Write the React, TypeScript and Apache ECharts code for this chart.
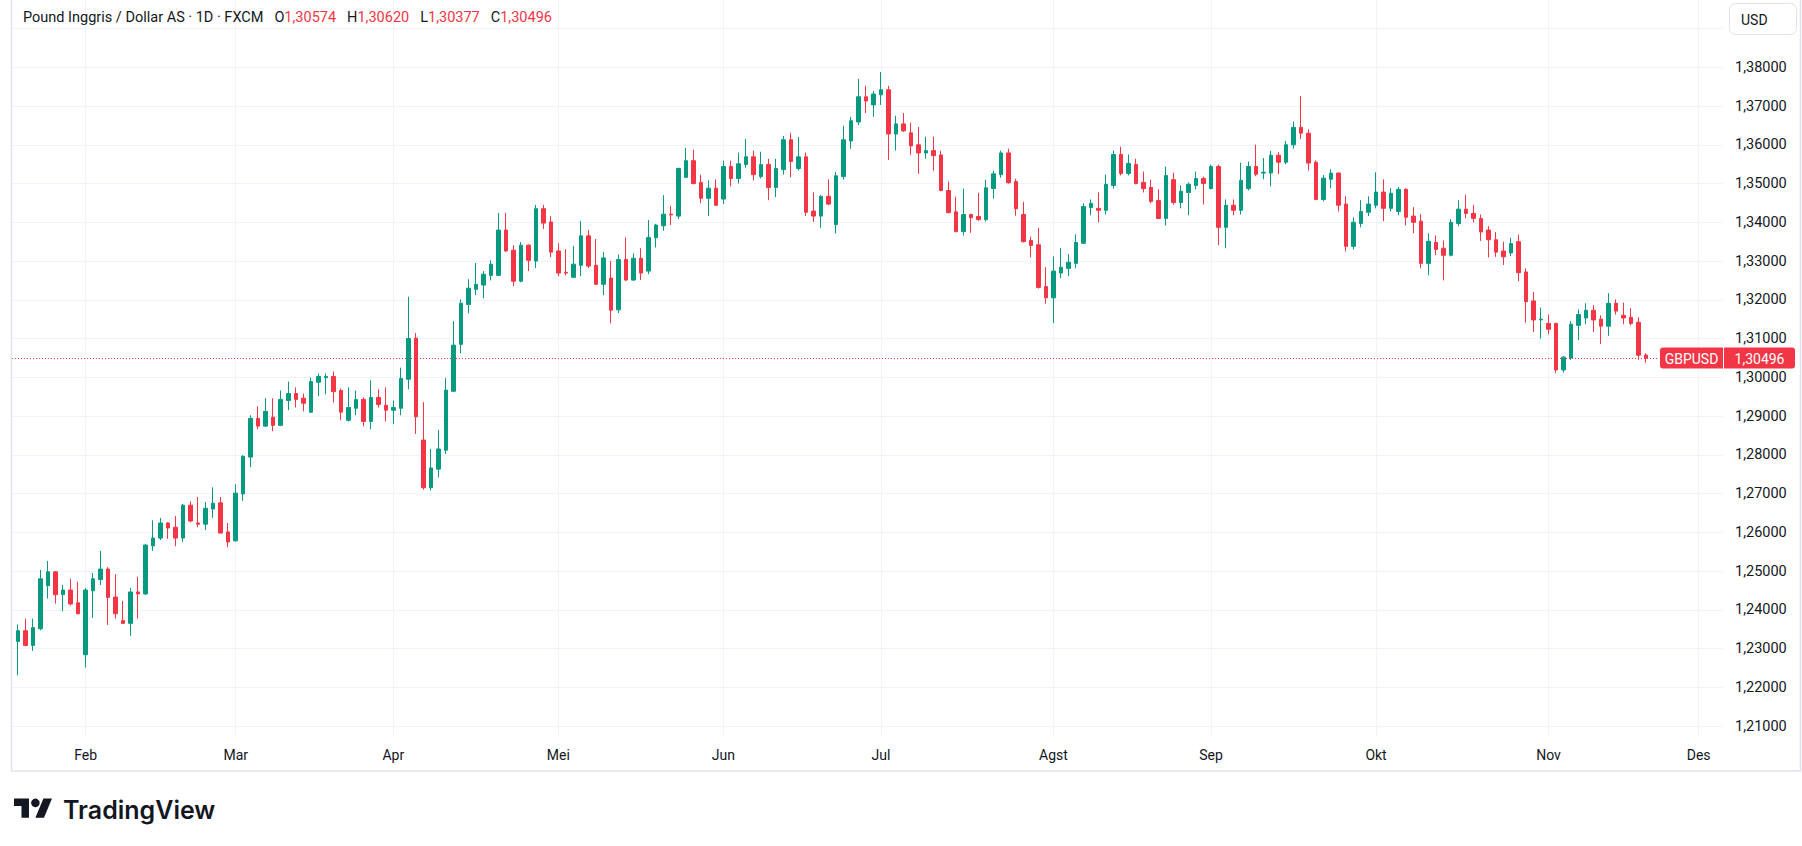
import React, { useEffect, useRef } from "react";
import * as echarts from "echarts";

// Daily GBPUSD candles, index 1 = first candle on the chart
const opens = [
  1.2318, 1.2346, 1.2308, 1.2351, 1.2462, 1.2498, 1.2439, 1.2451, 1.2418, 1.2284,
  1.2449, 1.2478, 1.2505, 1.2433, 1.2372, 1.2365, 1.2446, 1.2441, 1.2565, 1.2585,
  1.2624, 1.2613, 1.2585, 1.2670, 1.2624, 1.2621, 1.2660, 1.2676, 1.2601, 1.2578,
  1.2699, 1.2794, 1.2894, 1.2874, 1.2897, 1.2876, 1.2940, 1.2958, 1.2946, 1.2910,
  1.2987, 1.2999, 1.3002, 1.2966, 1.2889, 1.2920, 1.2943, 1.2886, 1.2948, 1.2928,
  1.2915, 1.2920, 1.2995, 1.3101, 1.2838, 1.2715, 1.2763, 1.2812, 1.2964, 1.3085,
  1.3188, 1.3227, 1.3238, 1.3263, 1.3263, 1.3380, 1.3328, 1.3248, 1.3341, 1.3300,
  1.3435, 1.3401, 1.3326, 1.3271, 1.3258, 1.3289, 1.3365, 1.3289, 1.3240, 1.3256,
  1.3174, 1.3304, 1.3251, 1.3307, 1.3274, 1.3360, 1.3391, 1.3421, 1.3416, 1.3516,
  1.3559, 1.3503, 1.3462, 1.3488, 1.3460, 1.3544, 1.3513, 1.3549, 1.3569, 1.3518,
  1.3549, 1.3490, 1.3536, 1.3613, 1.3539, 1.3569, 1.3429, 1.3416, 1.3467, 1.3394,
  1.3518, 1.3610, 1.3659, 1.3724, 1.3703, 1.3729, 1.3742, 1.3628, 1.3654, 1.3631,
  1.3600, 1.3579, 1.3585, 1.3574, 1.3482, 1.3427, 1.3376, 1.3420, 1.3415, 1.3407,
  1.3487, 1.3523, 1.3579, 1.3505, 1.3420, 1.3353, 1.3342, 1.3234, 1.3205, 1.3269,
  1.3281, 1.3294, 1.3346, 1.3438, 1.3436, 1.3431, 1.3495, 1.3575, 1.3526, 1.3549,
  1.3503, 1.3490, 1.3456, 1.3410, 1.3510, 1.3451, 1.3477, 1.3495, 1.3513, 1.3487,
  1.3544, 1.3387, 1.3444, 1.3431, 1.3487, 1.3544, 1.3527, 1.3527, 1.3573, 1.3555,
  1.3600, 1.3645, 1.3630, 1.3555, 1.3459, 1.3511, 1.3527, 1.3447, 1.3338, 1.3397,
  1.3426, 1.3444, 1.3478, 1.3436, 1.3428, 1.3485, 1.3416, 1.3403, 1.3294, 1.3348,
  1.3333, 1.3315, 1.3397, 1.3434, 1.3423, 1.3410, 1.3380, 1.3355, 1.3326, 1.3321,
  1.3350, 1.3272, 1.3197, 1.3148, 1.3139, 1.3139, 1.3019, 1.3050, 1.3134, 1.3153,
  1.3173, 1.3150, 1.3132, 1.3191, 1.3160, 1.3155, 1.3142, 1.30574,
];

const highs = [
  1.2362, 1.2377, 1.2377, 1.2503, 1.2526, 1.2500, 1.2464, 1.2480, 1.2472, 1.2456,
  1.2495, 1.2552, 1.2510, 1.2492, 1.2423, 1.2456, 1.2485, 1.2570, 1.2631, 1.2637,
  1.2626, 1.2642, 1.2673, 1.2680, 1.2691, 1.2678, 1.2716, 1.2691, 1.2624, 1.2724,
  1.2799, 1.2902, 1.2925, 1.2946, 1.2946, 1.2966, 1.2989, 1.2974, 1.2958, 1.2999,
  1.3010, 1.3010, 1.3015, 1.2971, 1.2974, 1.2966, 1.2948, 1.2992, 1.2969, 1.2974,
  1.2940, 1.3025, 1.3208, 1.3114, 1.2936, 1.2815, 1.2864, 1.2998, 1.3145, 1.3201,
  1.3253, 1.3295, 1.3274, 1.3302, 1.3424, 1.3424, 1.3341, 1.3349, 1.3343, 1.3445,
  1.3445, 1.3416, 1.3346, 1.3331, 1.3339, 1.3403, 1.3380, 1.3357, 1.3323, 1.3300,
  1.3317, 1.3361, 1.3320, 1.3333, 1.3406, 1.3396, 1.3470, 1.3442, 1.3541, 1.3592,
  1.3587, 1.3523, 1.3508, 1.3511, 1.3559, 1.3559, 1.3580, 1.3615, 1.3585, 1.3582,
  1.3564, 1.3564, 1.3623, 1.3631, 1.3620, 1.3580, 1.3477, 1.3470, 1.3511, 1.3530,
  1.3649, 1.3672, 1.3770, 1.3752, 1.3739, 1.3788, 1.3752, 1.3675, 1.3682, 1.3657,
  1.3646, 1.3621, 1.3621, 1.3585, 1.3505, 1.3466, 1.3487, 1.3422, 1.3476, 1.3510,
  1.3533, 1.3585, 1.3590, 1.3512, 1.3453, 1.3363, 1.3386, 1.3284, 1.3312, 1.3333,
  1.3318, 1.3369, 1.3449, 1.3459, 1.3477, 1.3523, 1.3585, 1.3595, 1.3575, 1.3564,
  1.3531, 1.3510, 1.3485, 1.3544, 1.3528, 1.3495, 1.3503, 1.3531, 1.3518, 1.3549,
  1.3549, 1.3459, 1.3459, 1.3554, 1.3557, 1.3600, 1.3566, 1.3584, 1.3581, 1.3610,
  1.3660, 1.3726, 1.3640, 1.3560, 1.3522, 1.3537, 1.3529, 1.3467, 1.3413, 1.3457,
  1.3467, 1.3529, 1.3511, 1.3488, 1.3491, 1.3488, 1.3439, 1.3421, 1.3372, 1.3366,
  1.3353, 1.3408, 1.3457, 1.3471, 1.3445, 1.3420, 1.3390, 1.3375, 1.3350, 1.3360,
  1.3368, 1.3281, 1.3220, 1.3180, 1.3162, 1.3141, 1.3055, 1.3145, 1.3175, 1.3191,
  1.3186, 1.3160, 1.3217, 1.3201, 1.3193, 1.3178, 1.3155, 1.30620,
];

const lows = [
  1.2231, 1.2306, 1.2294, 1.2347, 1.2429, 1.2416, 1.2396, 1.2411, 1.2388, 1.2251,
  1.2379, 1.2464, 1.2361, 1.2377, 1.2363, 1.2333, 1.2377, 1.2438, 1.2552, 1.2580,
  1.2583, 1.2564, 1.2575, 1.2626, 1.2613, 1.2606, 1.2637, 1.2597, 1.2561, 1.2576,
  1.2681, 1.2768, 1.2866, 1.2872, 1.2861, 1.2874, 1.2915, 1.2922, 1.2912, 1.2908,
  1.2951, 1.2956, 1.2935, 1.2889, 1.2886, 1.2902, 1.2874, 1.2866, 1.2922, 1.2886,
  1.2879, 1.2902, 1.2969, 1.2854, 1.2710, 1.2708, 1.2742, 1.2802, 1.2962, 1.3062,
  1.3165, 1.3212, 1.3204, 1.3250, 1.3261, 1.3324, 1.3235, 1.3245, 1.3274, 1.3282,
  1.3383, 1.3310, 1.3261, 1.3263, 1.3256, 1.3261, 1.3282, 1.3238, 1.3212, 1.3139,
  1.3166, 1.3249, 1.3249, 1.3251, 1.3266, 1.3335, 1.3378, 1.3393, 1.3409, 1.3514,
  1.3498, 1.3449, 1.3416, 1.3442, 1.3447, 1.3493, 1.3500, 1.3541, 1.3508, 1.3513,
  1.3457, 1.3465, 1.3523, 1.3516, 1.3534, 1.3416, 1.3401, 1.3386, 1.3444, 1.3371,
  1.3510, 1.3590, 1.3651, 1.3682, 1.3672, 1.3703, 1.3561, 1.3585, 1.3633, 1.3574,
  1.3525, 1.3564, 1.3533, 1.3480, 1.3423, 1.3374, 1.3366, 1.3373, 1.3404, 1.3402,
  1.3461, 1.3515, 1.3500, 1.3417, 1.3348, 1.3309, 1.3229, 1.3190, 1.3140, 1.3256,
  1.3261, 1.3281, 1.3344, 1.3418, 1.3400, 1.3420, 1.3487, 1.3521, 1.3521, 1.3498,
  1.3477, 1.3449, 1.3408, 1.3392, 1.3446, 1.3436, 1.3418, 1.3485, 1.3446, 1.3485,
  1.3341, 1.3333, 1.3418, 1.3420, 1.3482, 1.3519, 1.3511, 1.3493, 1.3524, 1.3550,
  1.3590, 1.3615, 1.3534, 1.3457, 1.3454, 1.3488, 1.3428, 1.3325, 1.3330, 1.3387,
  1.3416, 1.3436, 1.3403, 1.3428, 1.3418, 1.3392, 1.3372, 1.3281, 1.3263, 1.3315,
  1.3250, 1.3312, 1.3390, 1.3410, 1.3400, 1.3352, 1.3309, 1.3311, 1.3290, 1.3313,
  1.3248, 1.3141, 1.3117, 1.3100, 1.3111, 1.3012, 1.3012, 1.3045, 1.3096, 1.3137,
  1.3117, 1.3086, 1.3107, 1.3162, 1.3137, 1.3134, 1.3045, 1.30377,
];

const closes = [
  1.2346, 1.2308, 1.2354, 1.2480, 1.2498, 1.2439, 1.2451, 1.2415, 1.2390, 1.2451,
  1.2480, 1.2505, 1.2432, 1.2390, 1.2365, 1.2446, 1.2441, 1.2567, 1.2585, 1.2624,
  1.2611, 1.2585, 1.2670, 1.2629, 1.2621, 1.2662, 1.2675, 1.2598, 1.2575, 1.2701,
  1.2796, 1.2894, 1.2874, 1.2912, 1.2876, 1.2943, 1.2958, 1.2943, 1.2933, 1.2989,
  1.3002, 1.3002, 1.2963, 1.2910, 1.2922, 1.2943, 1.2886, 1.2948, 1.2930, 1.2915,
  1.2922, 1.2997, 1.3100, 1.2898, 1.2715, 1.2766, 1.2815, 1.2967, 1.3083, 1.3191,
  1.3230, 1.3240, 1.3266, 1.3292, 1.3380, 1.3326, 1.3248, 1.3341, 1.3302, 1.3435,
  1.3398, 1.3323, 1.3269, 1.3269, 1.3292, 1.3365, 1.3287, 1.3240, 1.3308, 1.3173,
  1.3304, 1.3251, 1.3307, 1.3269, 1.3361, 1.3393, 1.3421, 1.3419, 1.3539, 1.3559,
  1.3500, 1.3462, 1.3488, 1.3444, 1.3544, 1.3513, 1.3551, 1.3569, 1.3523, 1.3549,
  1.3490, 1.3539, 1.3613, 1.3557, 1.3569, 1.3426, 1.3416, 1.3467, 1.3447, 1.3520,
  1.3613, 1.3662, 1.3724, 1.3713, 1.3731, 1.3742, 1.3628, 1.3654, 1.3636, 1.3597,
  1.3579, 1.3585, 1.3572, 1.3482, 1.3425, 1.3376, 1.3420, 1.3412, 1.3407, 1.3489,
  1.3525, 1.3579, 1.3502, 1.3435, 1.3350, 1.3340, 1.3232, 1.3205, 1.3274, 1.3284,
  1.3297, 1.3348, 1.3441, 1.3449, 1.3431, 1.3498, 1.3575, 1.3526, 1.3552, 1.3500,
  1.3487, 1.3454, 1.3410, 1.3521, 1.3451, 1.3480, 1.3498, 1.3513, 1.3500, 1.3544,
  1.3387, 1.3444, 1.3431, 1.3508, 1.3544, 1.3524, 1.3529, 1.3573, 1.3555, 1.3600,
  1.3645, 1.3630, 1.3553, 1.3459, 1.3514, 1.3527, 1.3444, 1.3338, 1.3400, 1.3428,
  1.3447, 1.3478, 1.3436, 1.3475, 1.3485, 1.3413, 1.3400, 1.3294, 1.3351, 1.3330,
  1.3315, 1.3400, 1.3434, 1.3423, 1.3410, 1.3375, 1.3355, 1.3323, 1.3311, 1.3345,
  1.3270, 1.3195, 1.3148, 1.3150, 1.3124, 1.3019, 1.3052, 1.3137, 1.3162, 1.3173,
  1.3148, 1.3132, 1.3191, 1.3171, 1.3153, 1.3139, 1.3057, 1.30496,
];

// candle index of the first trading day of each month
const monthTicks = [10, 30, 51, 73, 95, 116, 139, 160, 182, 205, 225];
const monthLabels = ["Feb", "Mar", "Apr", "Mei", "Jun", "Jul", "Agst", "Sep", "Okt", "Nov", "Des"];

const priceGridTicks = [
  1.21, 1.22, 1.23, 1.24, 1.25, 1.26, 1.27, 1.28, 1.29, 1.3,
  1.31, 1.32, 1.33, 1.34, 1.35, 1.36, 1.37, 1.38, 1.39,
];
const priceLabelTicks = [
  1.21, 1.22, 1.23, 1.24, 1.25, 1.26, 1.27, 1.28, 1.29, 1.3,
  1.31, 1.32, 1.33, 1.34, 1.35, 1.36, 1.37, 1.38,
];

const symbolName = "Pound Inggris / Dollar AS · 1D · FXCM";
const tickerName = "GBPUSD";

const GREEN = "#089981";
const RED = "#F23645";
const TEXT = "#131722";
const GRIDC = "#F0F3FA";
const FONT = "Roboto, 'Noto Sans', sans-serif";

let logoRegistered = false;
function ensureLogo() {
  if (logoRegistered) return;
  echarts.graphic.registerShape(
    "tvlogo",
    echarts.graphic.extendPath("M14 22H7V11H0V4h14v18zM28 22h-8l7.5-18h8L28 22z", {})
  );
  logoRegistered = true;
}

const fmt = (v: number) => v.toFixed(5).replace(".", ",");

export default function App() {
  const ref = useRef<HTMLDivElement>(null);

  useEffect(() => {
    if (!ref.current) return;
    ensureLogo();
    const chart = echarts.init(ref.current, null, { renderer: "svg" });
    const n = closes.length;
    const last = n - 1;
    const data = closes.map((c, k) => [k + 1, opens[k], c, lows[k], highs[k]]);
    const valColor = closes[last] >= opens[last] ? GREEN : RED;

    const header =
      `{t|${symbolName}}` +
      `{k|O}{v|${fmt(opens[last])}}` +
      `{k|H}{v|${fmt(highs[last])}}` +
      `{k|L}{v|${fmt(lows[last])}}` +
      `{k|C}{v|${fmt(closes[last])}}`;

    const s = 1.07;
    const option: any = {
      animation: false,
      backgroundColor: "#ffffff",
      textStyle: { fontFamily: FONT },
      title: {
        left: 23,
        top: 10,
        padding: 0,
        text: header,
        textStyle: {
          fontFamily: FONT,
          fontSize: 14.5,
          fontWeight: "normal",
          rich: {
            t: { color: TEXT, fontSize: 14.5, fontFamily: FONT },
            k: { color: TEXT, fontSize: 14.5, fontFamily: FONT, padding: [0, 0, 0, 11] },
            v: { color: valColor, fontSize: 14.5, fontFamily: FONT },
          },
        },
      },
      grid: { left: 12, top: 0, width: 1711, height: 737, containLabel: false, outerBoundsMode: "none" },
      xAxis: {
        type: "value",
        min: 0.176,
        max: 228.25,
        axisLine: { show: false },
        axisTick: { show: false, customValues: monthTicks },
        axisLabel: {
          customValues: monthTicks,
          formatter: (v: number) => {
            const j = monthTicks.indexOf(Math.round(v));
            return j >= 0 ? monthLabels[j] : "";
          },
          color: TEXT,
          fontSize: 14,
          fontFamily: FONT,
          margin: 11,
        },
        splitLine: { show: true, lineStyle: { color: GRIDC, width: 1 } },
      },
      yAxis: {
        type: "value",
        position: "right",
        min: 1.20717,
        max: 1.39737,
        axisLine: { show: false },
        axisTick: { show: false, customValues: priceGridTicks },
        axisLabel: {
          customValues: priceLabelTicks,
          formatter: (v: number) => fmt(v),
          color: TEXT,
          fontSize: 14.5,
          fontFamily: FONT,
          margin: 12,
        },
        splitLine: { show: true, lineStyle: { color: GRIDC, width: 1 } },
      },
      series: [
        {
          type: "candlestick",
          data,
          dimensions: ["idx", "open", "close", "lowest", "highest"],
          encode: { x: "idx", y: ["open", "close", "lowest", "highest"] },
          barWidth: 4,
          itemStyle: {
            color: GREEN,
            color0: RED,
            borderColor: GREEN,
            borderColor0: RED,
            borderWidth: 1,
          },
          emphasis: { disabled: true },
          markLine: {
            silent: true,
            animation: false,
            symbol: ["none", "none"],
            emphasis: { disabled: true },
            lineStyle: { color: RED, type: [1, 2], width: 1 },
            label: {
              show: true,
              position: "end",
              distance: 1,
              formatter: `{a|${tickerName}}{s| }{b|${fmt(closes[last])}}`,
              rich: {
                a: {
                  backgroundColor: RED,
                  color: "#ffffff",
                  fontSize: 14,
                  fontFamily: FONT,
                  lineHeight: 14,
                  padding: [4, 6, 3, 6],
                  width: 51,
                  align: "center",
                  borderRadius: [3, 0, 0, 3],
                },
                s: { width: 1, fontSize: 14, lineHeight: 14 },
                b: {
                  backgroundColor: RED,
                  color: "#ffffff",
                  fontSize: 14,
                  fontFamily: FONT,
                  lineHeight: 14,
                  padding: [4, 6, 3, 6],
                  width: 59,
                  align: "center",
                  borderRadius: [0, 3, 3, 0],
                },
              },
            },
            data: [[{ x: 12, yAxis: closes[last] }, { x: 1659, yAxis: closes[last] }]],
          },
        },
      ],
      graphic: [
        {
          type: "rect",
          silent: true,
          z: 100,
          shape: { x: 11.5, y: -2, width: 1789, height: 773 },
          style: { fill: "none", stroke: "#E0E3EB", lineWidth: 1.5 },
        },
        {
          type: "rect",
          silent: true,
          z: 100,
          shape: { x: 1729.5, y: 3.5, width: 67, height: 31, r: 6 },
          style: { fill: "#ffffff", stroke: "#E0E3EB", lineWidth: 1 },
        },
        {
          type: "text",
          silent: true,
          z: 101,
          x: 1741,
          y: 19.5,
          style: {
            text: "USD",
            fontSize: 14,
            fontFamily: FONT,
            fill: TEXT,
            verticalAlign: "middle",
          },
        },
        {
          type: "tvlogo",
          silent: true,
          x: 14,
          y: 794.3,
          scaleX: s,
          scaleY: s,
          style: { fill: TEXT },
        },
        {
          type: "circle",
          silent: true,
          shape: { cx: 14 + 20 * s, cy: 794.3 + 8 * s, r: 4 * s },
          style: { fill: TEXT },
        },
        {
          type: "text",
          silent: true,
          x: 63,
          y: 809.5,
          style: {
            text: "TradingView",
            fontSize: 25,
            fontWeight: 600,
            fontFamily: "Inter, Roboto, sans-serif",
            fill: TEXT,
            verticalAlign: "middle",
          },
        },
      ],
    };
    chart.setOption(option);
    return () => chart.dispose();
  }, []);

  return (
    <div
      ref={ref}
      style={{ position: "fixed", left: 0, top: 0, width: 1802, height: 846, background: "#ffffff" }}
    />
  );
}
